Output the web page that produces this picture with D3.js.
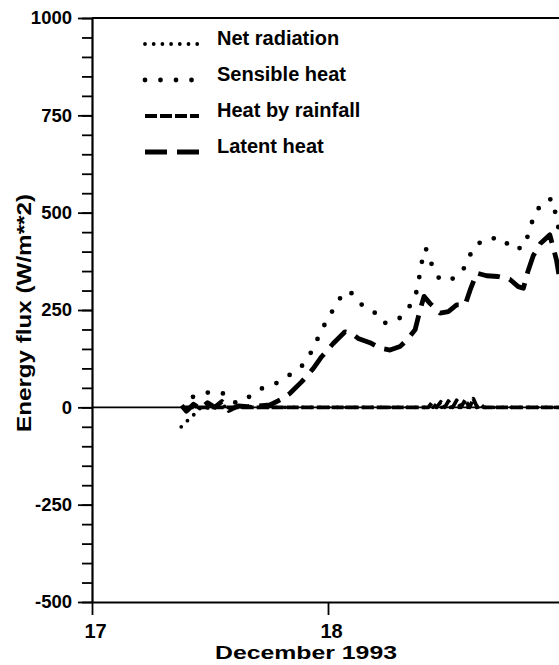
<!DOCTYPE html>
<html>
<head>
<meta charset="utf-8">
<script src="https://cdn.jsdelivr.net/npm/d3@7"></script>
<style>
  body { margin: 0; background: #fff; }
  svg { display: block; font-family: "Liberation Sans", Arial, Helvetica, sans-serif; }
</style>
</head>
<body>
<svg id="chart" width="559" height="665"></svg>
<script>
// valeurs (jour de décembre 1993, W/m**2)
const netDays = [17.378, 17.405, 17.43, 17.45, 17.47, 17.5, 17.55, 17.6, 17.65, 17.7, 17.8, 17.9, 18.0, 18.2, 18.4, 18.6, 18.8, 18.98];
const netValues = [-50, -34, -20, -6, 2, -3, 4, -2, 3, 0, 0, 0, 0, 0, 0, 0, 0, 0];

const sensDays = [17.428, 17.46, 17.492, 17.551, 17.578, 17.613, 17.65, 17.708, 17.775, 17.832, 17.889, 17.928, 17.959, 17.99, 18.025, 18.061, 18.092, 18.133, 18.191, 18.236, 18.297, 18.342, 18.373, 18.386, 18.398, 18.414, 18.439, 18.47, 18.51, 18.559, 18.59, 18.613, 18.665, 18.736, 18.783, 18.832, 18.852, 18.873, 18.908, 18.95, 18.966, 18.98];
const sensValues = [27, 35, 38, 38, 21, 11, 20, 46, 60, 81, 106, 141, 180, 218, 254, 290, 299, 267, 248, 216, 225, 255, 292, 332, 374, 409, 368, 332, 324, 342, 370, 409, 433, 435, 405, 412, 452, 492, 527, 536, 492, 450];

const rainDays = [17.38, 17.6, 17.8, 18.0, 18.2, 18.4, 18.425, 18.44, 18.46, 18.478, 18.495, 18.51, 18.528, 18.545, 18.563, 18.581, 18.6, 18.616, 18.632, 18.65, 18.66, 18.8, 18.98];
const rainValues = [0, 0, 0, 0, 0, 0, 0, 12, 0, 14, 0, 16, 0, 18, 0, 19, 0, 22, 0, 6, 0, 0, 0];

const latDays = [17.38, 17.4, 17.43, 17.46, 17.49, 17.52, 17.55, 17.58, 17.62, 17.66, 17.7, 17.754, 17.797, 17.839, 17.889, 17.938, 17.973, 18.022, 18.072, 18.1, 18.128, 18.178, 18.22, 18.263, 18.305, 18.34, 18.369, 18.39, 18.407, 18.432, 18.475, 18.51, 18.545, 18.581, 18.602, 18.63, 18.672, 18.72, 18.77, 18.806, 18.828, 18.847, 18.87, 18.9, 18.94, 18.968, 18.98];
const latValues = [5, -10, 8, -4, 12, 0, 15, -8, 4, 2, 3, 6, 19, 36, 66, 100, 130, 164, 194, 190, 177, 166, 152, 147, 156, 177, 199, 250, 285, 267, 242, 246, 263, 263, 301, 345, 338, 336, 329, 310, 306, 349, 390, 421, 443, 379, 335];

const yMajorTicks = [-500, -250, 0, 250, 500, 750, 1000];
const xTicks = [17, 18];
const legendLabels = ["Net radiation", "Sensible heat", "Heat by rainfall", "Latent heat"];

// styles des courbes (même ordre que la légende)
const lineStyles = [
  { dash: "0 8.7", width: 3.8, cap: "round" },
  { dash: "0 15.5", width: 4.8, cap: "round" },
  { dash: "12 3", width: 3.8, cap: "butt" },
  { dash: "22 10", width: 4.8, cap: "butt" }
];

const series = [
  netDays.map((d, i) => ({ day: d, value: netValues[i] })),
  sensDays.map((d, i) => ({ day: d, value: sensValues[i] })),
  rainDays.map((d, i) => ({ day: d, value: rainValues[i] })),
  latDays.map((d, i) => ({ day: d, value: latValues[i] }))
];

const svg = d3.select("#chart");

const x = d3.scaleLinear().domain([17, 19]).range([92, 564]);
const y = d3.scaleLinear().domain([-500, 1000]).range([602, 18]);

// cadre du haut
svg.append("line")
  .attr("x1", x(17)).attr("x2", x(19))
  .attr("y1", y(1000)).attr("y2", y(1000))
  .attr("stroke", "#000").attr("stroke-width", 2.2);

// ligne du zéro
svg.append("line")
  .attr("x1", x(17)).attr("x2", x(19))
  .attr("y1", y(0)).attr("y2", y(0))
  .attr("stroke", "#000").attr("stroke-width", 1.6);

// petites graduations
svg.append("g")
  .attr("transform", "translate(" + x(17) + ",0)")
  .call(d3.axisLeft(y).tickValues(d3.range(-500, 1001, 50)).tickSize(10).tickFormat(""))
  .call(g => g.select(".domain").remove())
  .selectAll("line").attr("stroke-width", 1.8);

// axe Y
const yAxis = svg.append("g")
  .attr("transform", "translate(" + x(17) + ",0)")
  .call(d3.axisLeft(y).tickValues(yMajorTicks).tickSize(14).tickSizeOuter(0).tickPadding(6)
    .tickFormat(d => String(d)));
yAxis.select(".domain").attr("stroke-width", 2.2);
yAxis.selectAll("line").attr("stroke-width", 1.8);
yAxis.selectAll("text")
  .attr("font-size", 18.5).attr("font-weight", "bold")
  .attr("font-family", "Liberation Sans, Arial, sans-serif").attr("fill", "#000");

// axe X
const xAxis = svg.append("g")
  .attr("transform", "translate(0," + y(-500) + ")")
  .call(d3.axisBottom(x).tickValues(xTicks).tickSize(13).tickSizeOuter(0).tickPadding(9)
    .tickFormat(d => String(d)));
xAxis.select(".domain").attr("stroke-width", 2.2);
xAxis.selectAll("line").attr("stroke-width", 1.8);
xAxis.selectAll("text")
  .attr("font-size", 20).attr("font-weight", "bold").attr("dx", 3)
  .attr("font-family", "Liberation Sans, Arial, sans-serif").attr("fill", "#000");

// titres des axes
svg.append("text")
  .attr("x", 306).attr("y", 659)
  .attr("text-anchor", "middle")
  .attr("font-size", 19).attr("font-weight", "bold")
  .attr("textLength", 182).attr("lengthAdjust", "spacingAndGlyphs")
  .text("December 1993");

svg.append("text")
  .attr("transform", "translate(31,313) rotate(-90)")
  .attr("text-anchor", "middle")
  .attr("font-size", 21).attr("font-weight", "bold")
  .attr("textLength", 238).attr("lengthAdjust", "spacingAndGlyphs")
  .text("Energy flux (W/m**2)");

// courbes
const line = d3.line().x(d => x(d.day)).y(d => y(d.value));

series.forEach((data, i) => {
  svg.append("path")
    .datum(data)
    .attr("d", line)
    .attr("fill", "none")
    .attr("stroke", "#000")
    .attr("stroke-width", lineStyles[i].width)
    .attr("stroke-dasharray", lineStyles[i].dash)
    .attr("stroke-linecap", lineStyles[i].cap)
    .attr("stroke-linejoin", "round");
});

// légende
const legend = svg.append("g");
legendLabels.forEach((label, i) => {
  const baseY = 45 + i * 36;
  legend.append("line")
    .attr("x1", 145).attr("x2", 199)
    .attr("y1", baseY - 1).attr("y2", baseY - 1)
    .attr("stroke", "#000")
    .attr("stroke-width", lineStyles[i].width)
    .attr("stroke-dasharray", lineStyles[i].dash)
    .attr("stroke-linecap", lineStyles[i].cap);
  legend.append("text")
    .attr("x", 217).attr("y", baseY)
    .attr("font-size", 20).attr("font-weight", "bold")
    .text(label);
});
</script>
</body>
</html>
